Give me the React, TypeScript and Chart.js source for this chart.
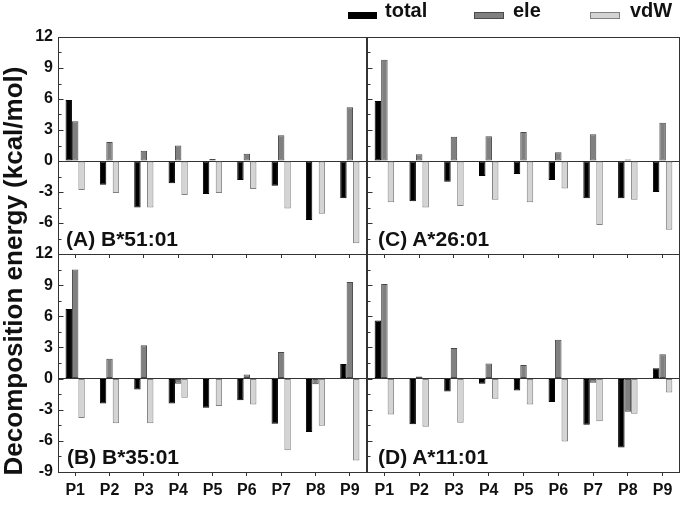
import React, { useEffect, useRef } from "react";
import { Chart, registerables } from "chart.js";

Chart.register(...registerables);

const categories = ["P1", "P2", "P3", "P4", "P5", "P6", "P7", "P8", "P9"];
const seriesNames = ["total", "ele", "vdW"];
const yTickMin = -9;
const yTickMax = 12;
const yTickStep = 3;

// (A) B*51:01
const a_total = [5.9, -2.3, -4.5, -2.15, -3.2, -1.85, -2.4, -5.7, -3.6];
const a_ele = [3.85, 1.85, 1.0, 1.5, 0.2, 0.7, 2.5, -0.1, 5.2];
const a_vdw = [-2.8, -3.1, -4.5, -3.3, -3.1, -2.7, -4.6, -5.1, -7.95];

// (C) A*26:01
const c_total = [5.8, -3.9, -2.0, -1.45, -1.25, -1.85, -3.6, -3.6, -3.0];
const c_ele = [9.8, 0.65, 2.35, 2.4, 2.8, 0.85, 2.6, 0.15, 3.7];
const c_vdw = [-4.0, -4.5, -4.35, -3.75, -4.0, -2.65, -6.2, -3.75, -6.65];

// (B) B*35:01
const b_total = [6.7, -2.4, -1.05, -2.4, -2.8, -2.1, -4.35, -5.15, 1.4];
const b_ele = [10.5, 1.9, 3.2, -0.5, -0.05, 0.4, 2.55, -0.55, 9.3];
const b_vdw = [-3.8, -4.3, -4.3, -1.85, -2.65, -2.5, -6.9, -4.55, -7.9];

// (D) A*11:01
const d_total = [5.6, -4.4, -1.25, -0.5, -1.15, -2.25, -4.45, -6.65, 1.0];
const d_ele = [9.1, 0.2, 2.95, 1.45, 1.3, 3.75, -0.4, -3.2, 2.35];
const d_vdw = [-3.45, -4.65, -4.25, -1.95, -2.5, -6.05, -4.1, -3.4, -1.35];

const FONT = "'Liberation Sans', Arial, sans-serif";
const W = 680;
const H = 505;

const fills = ["#000000", "#808080", "#d4d4d4"];
const borders = ["#000000", "#4a4a4a", "#808080"];

const frameTicks = {
  id: "frameTicks",
  afterDatasetsDraw(chart: any) {
    const { ctx, chartArea: a, scales } = chart;
    const y = scales.y;
    ctx.save();
    ctx.strokeStyle = "#333";
    ctx.lineWidth = 1;
    const l = Math.round(a.left) + 0.5;
    const t = Math.round(a.top) + 0.5;
    const r = Math.round(a.right) - 0.5;
    const b = Math.round(a.bottom) + 0.5;
    ctx.strokeRect(l, t, r - l, b - t);
    const ticks = y.ticks;
    ctx.beginPath();
    for (let i = 0; i < ticks.length; i++) {
      const py = Math.round(y.getPixelForValue(ticks[i].value)) + 0.5;
      ctx.moveTo(l, py);
      ctx.lineTo(l + 5, py);
      if (i < ticks.length - 1) {
        const mv = (ticks[i].value + ticks[i + 1].value) / 2;
        const my = Math.round(y.getPixelForValue(mv)) + 0.5;
        ctx.moveTo(l, my);
        ctx.lineTo(l + 3, my);
      }
    }
    ctx.stroke();
    ctx.restore();
  },
};

type PanelProps = {
  total: number[];
  ele: number[];
  vdw: number[];
  left: number;
  top: number;
  right: number;
  bottom: number;
  showY: boolean;
  showX: boolean;
  hideBottomLabel: boolean;
};

function Panel(p: PanelProps) {
  const ref = useRef<HTMLCanvasElement>(null);
  useEffect(() => {
    if (!ref.current) return;
    const yw = p.showY ? p.left : 0;
    const xh = p.showX ? 30 : 0;
    const values = [p.total, p.ele, p.vdw];
    const chart = new Chart(ref.current, {
      type: "bar",
      data: {
        labels: categories,
        datasets: seriesNames.map((n, i) => ({
          label: n,
          data: values[i],
          backgroundColor: fills[i],
          borderColor: borders[i],
          borderWidth: 1,
          borderSkipped: false,
          barPercentage: 1,
          categoryPercentage: 0.56,
        })),
      },
      plugins: [frameTicks],
      options: {
        responsive: false,
        animation: false,
        devicePixelRatio: 1,
        events: [],
        layout: {
          padding: {
            left: p.showY ? 0 : p.left,
            top: p.top,
            right: W - p.right,
            bottom: H - p.bottom - xh,
          },
        },
        plugins: {
          legend: { display: false },
          tooltip: { enabled: false },
          title: { display: false },
        },
        scales: {
          x: {
            position: "bottom",
            offset: true,
            border: { display: false },
            grid: {
              display: true,
              drawOnChartArea: false,
              drawTicks: true,
              tickLength: 4,
              offset: false,
              color: "#333",
            },
            ticks: {
              display: p.showX,
              color: "#111",
              padding: 5,
              maxRotation: 0,
              font: { family: FONT, size: 16, weight: "bold" },
            },
            afterFit: (s: any) => {
              s.height = xh;
            },
          },
          y: {
            position: "left",
            min: yTickMin,
            max: yTickMax,
            border: { display: false },
            grid: {
              drawTicks: false,
              color: (c: any) => (c.tick && c.tick.value === 0 ? "#333" : "rgba(0,0,0,0)"),
            },
            ticks: {
              display: p.showY,
              stepSize: yTickStep,
              padding: 5,
              color: "#111",
              font: { family: FONT, size: 16, weight: "bold" },
              callback: (v: any) => (p.hideBottomLabel && v === yTickMin ? "" : String(v)),
            },
            afterFit: (s: any) => {
              s.width = yw;
            },
          },
        },
      } as any,
    });
    return () => chart.destroy();
  }, []);
  return (
    <canvas
      ref={ref}
      width={W}
      height={H}
      style={{ position: "absolute", left: 0, top: 0, width: W, height: H }}
    />
  );
}

const labelStyle: React.CSSProperties = {
  position: "absolute",
  font: `bold 21px ${FONT}`,
  lineHeight: "21px",
  color: "#111",
  whiteSpace: "nowrap",
};

const legendText: React.CSSProperties = {
  position: "absolute",
  top: 0,
  font: `bold 20px ${FONT}`,
  lineHeight: "20px",
  color: "#111",
  whiteSpace: "nowrap",
};

function Swatch({ left, width, i }: { left: number; width: number; i: number }) {
  return (
    <div
      style={{
        position: "absolute",
        left,
        top: 12,
        width,
        height: 5,
        background: fills[i],
        border: `1px solid ${borders[i]}`,
      }}
    />
  );
}

export default function App() {
  return (
    <div
      style={{
        position: "absolute",
        left: 0,
        top: 0,
        width: W,
        height: H,
        background: "#fff",
        overflow: "hidden",
      }}
    >
      <Panel total={a_total} ele={a_ele} vdw={a_vdw} left={58} top={37} right={367} bottom={254} showY={true} showX={false} hideBottomLabel={true} />
      <Panel total={c_total} ele={c_ele} vdw={c_vdw} left={367} top={37} right={680} bottom={254} showY={false} showX={false} hideBottomLabel={true} />
      <Panel total={b_total} ele={b_ele} vdw={b_vdw} left={58} top={254} right={367} bottom={472} showY={true} showX={true} hideBottomLabel={false} />
      <Panel total={d_total} ele={d_ele} vdw={d_vdw} left={367} top={254} right={680} bottom={472} showY={false} showX={true} hideBottomLabel={false} />

      <div style={{ ...labelStyle, left: 66, top: 228 }}>(A) B*51:01</div>
      <div style={{ ...labelStyle, left: 378, top: 228 }}>(C) A*26:01</div>
      <div style={{ ...labelStyle, left: 67, top: 446 }}>(B) B*35:01</div>
      <div style={{ ...labelStyle, left: 378, top: 446 }}>(D) A*11:01</div>

      <Swatch left={348} width={27} i={0} />
      <div style={{ ...legendText, left: 385 }}>{seriesNames[0]}</div>
      <Swatch left={474} width={28} i={1} />
      <div style={{ ...legendText, left: 513 }}>{seriesNames[1]}</div>
      <Swatch left={590} width={28} i={2} />
      <div style={{ ...legendText, left: 630 }}>{seriesNames[2]}</div>

      <div
        style={{
          position: "absolute",
          left: 12.9 - 220,
          top: 271 - 13,
          width: 440,
          height: 26,
          textAlign: "center",
          font: `bold 26px ${FONT}`,
          lineHeight: "26px",
          color: "#111",
          whiteSpace: "nowrap",
          transform: "rotate(-90deg)",
          transformOrigin: "50% 50%",
        }}
      >
        Decomposition energy (kcal/mol)
      </div>
    </div>
  );
}
